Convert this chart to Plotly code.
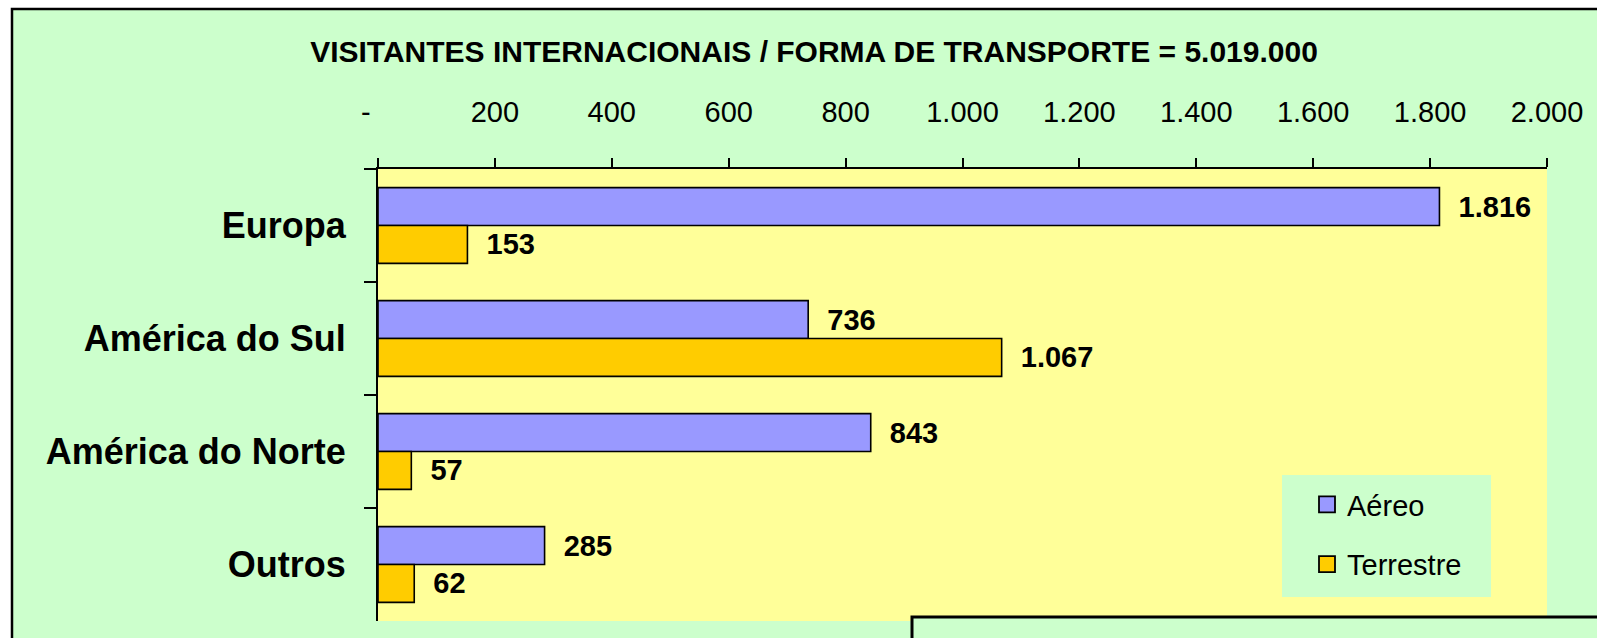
import plotly.graph_objects as go

categories = ["Europa", "América do Sul", "América do Norte", "Outros"]
aereo = [1816, 736, 843, 285]
terrestre = [153, 1067, 57, 62]
series_names = ["Aéreo", "Terrestre"]
series_colors = ["#9999FF", "#FFCC00"]
x_tickvals = [0, 200, 400, 600, 800, 1000, 1200, 1400, 1600, 1800, 2000]
x_ticktext = ["-\u00a0\u00a0\u00a0", "200", "400", "600", "800", "1.000", "1.200",
              "1.400", "1.600", "1.800", "2.000"]
title_text = "VISITANTES INTERNACIONAIS / FORMA DE TRANSPORTE = 5.019.000"

W, H = 1597, 638
L, R, T, B = 378, 1547, 169, 621
SANS = "Liberation Sans, Arial, sans-serif"
GREEN = "#CCFFCC"


def px(x):
    return (x - L) / (R - L)


def py(y):
    return (B - y) / (B - T)


fig = go.Figure()
for name, vals, color, grp in [(series_names[0], aereo, series_colors[0], "a"),
                               (series_names[1], terrestre, series_colors[1], "b")]:
    fig.add_trace(go.Bar(
        y=categories, x=vals, name=name, orientation="h",
        marker=dict(color=color, line=dict(color="black", width=1.6)),
        texttemplate="\u00a0\u00a0%{x:,}", textposition="outside",
        textfont=dict(family=SANS, size=29, color="black", weight="bold"),
        constraintext="none", cliponaxis=False, legendgroup=grp, showlegend=False,
    ))
    # legend entry with a larger square swatch
    fig.add_trace(go.Scatter(
        x=[None], y=[None], mode="markers", name=name, legendgroup=grp,
        marker=dict(symbol="square", size=16, color=color,
                    line=dict(color="black", width=1.8)),
        showlegend=True,
    ))

fig.update_layout(
    width=W, height=H,
    margin=dict(l=L, r=W - R, t=T, b=H - B, autoexpand=False),
    paper_bgcolor=GREEN, plot_bgcolor="#FFFF99",
    separators=",.",
    barmode="group", bargap=0.33, bargroupgap=0,
    showlegend=True,
    legend=dict(x=px(1307), y=py(479), xanchor="left", yanchor="top",
                bgcolor="rgba(0,0,0,0)", borderwidth=0,
                font=dict(family=SANS, size=29, color="black"),
                tracegroupgap=19, traceorder="grouped"),
    title=dict(text=title_text, x=814 / W, xref="container", xanchor="center",
               y=1 - 51 / H, yref="container", yanchor="middle",
               font=dict(family=SANS, size=30, color="black", weight="bold")),
    xaxis=dict(side="top", range=[0, 2000], tickvals=x_tickvals, ticktext=x_ticktext,
               showgrid=False, zeroline=False, showline=True, linecolor="black",
               linewidth=2, ticks="outside", ticklen=9, tickwidth=2, tickcolor="black",
               tickfont=dict(family=SANS, size=29, color="black"),
               ticklabelstandoff=24),
    yaxis=dict(type="category", categoryorder="array", categoryarray=categories,
               range=[3.5, -0.5], showgrid=False, zeroline=False, showline=True,
               linecolor="black", linewidth=2, ticks="outside", ticklen=12,
               tickwidth=2, tickcolor="black", tickson="boundaries",
               tickfont=dict(family=SANS, size=36, color="black", weight="bold"),
               ticklabelstandoff=23),
    shapes=[
        # white outside the outer chart frame
        dict(type="rect", xref="paper", yref="paper", x0=px(-5), x1=px(12),
             y0=py(700), y1=py(-5), fillcolor="white", line=dict(width=0), layer="below"),
        dict(type="rect", xref="paper", yref="paper", x0=px(-5), x1=px(1700),
             y0=py(9), y1=py(-5), fillcolor="white", line=dict(width=0), layer="below"),
        # outer frame
        dict(type="rect", xref="paper", yref="paper", x0=px(12), x1=px(1700),
             y0=py(700), y1=py(9), line=dict(color="black", width=2.5), layer="above"),
        # legend background
        dict(type="rect", xref="paper", yref="paper", x0=px(1282), x1=px(1491),
             y0=py(597), y1=py(475), fillcolor=GREEN, line=dict(width=0), layer="above"),
        # overlapping box at bottom right
        dict(type="rect", xref="paper", yref="paper", x0=px(912), x1=px(1700),
             y0=py(700), y1=py(617), fillcolor=GREEN,
             line=dict(color="black", width=3), layer="above"),
    ],
)

fig.write_html("out.html", config={"displayModeBar": False},
               post_script="document.body.style.margin='0';")
